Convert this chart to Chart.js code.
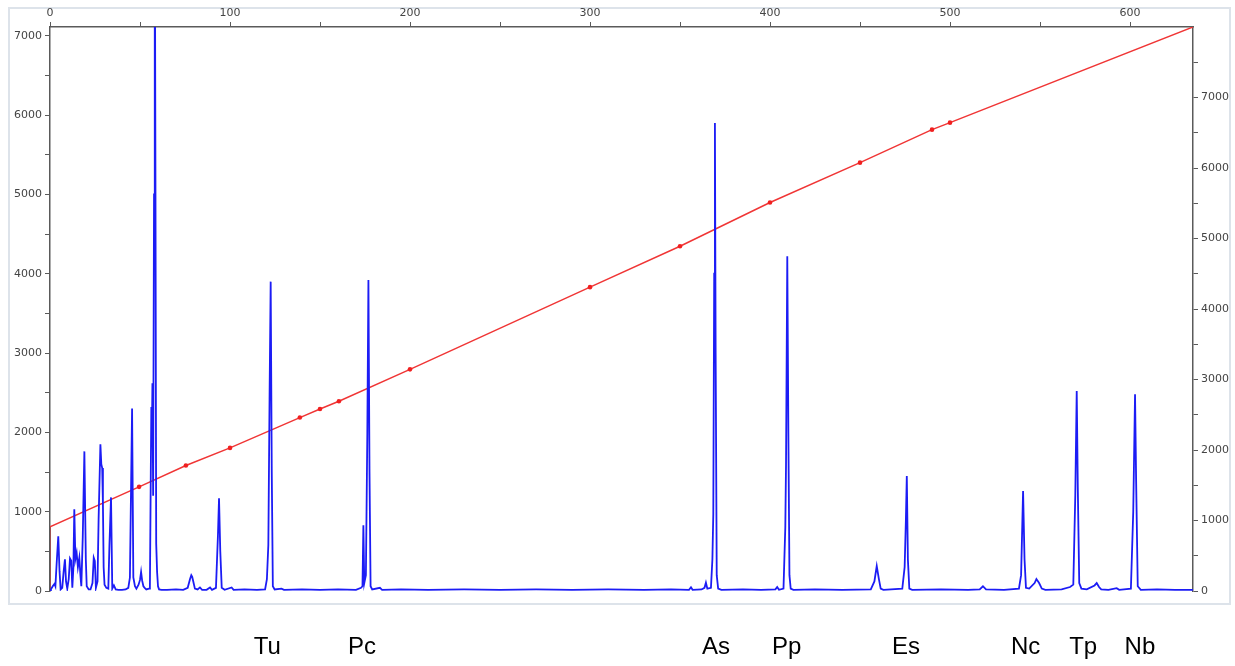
<!DOCTYPE html>
<html>
<head>
<meta charset="utf-8" />
<title>Chromatogram</title>
<script src="https://cdn.jsdelivr.net/npm/chart.js@4.4.0/dist/chart.umd.min.js"></script>
<style>
  body { margin: 0; background: #fff; }
  #wrap { width: 1235px; height: 666px; }
</style>
</head>
<body>
<div id="wrap"><canvas id="chart" width="1235" height="666"></canvas></div>
<script>
// retention time (top axis) and detector signal (left axis)
var traceTime = [
  0, 0.5, 1.5, 2.5, 3.0, 3.7, 4.6, 5.3, 5.9, 6.8, 7.6, 8.3, 8.9, 9.6, 10.4, 11.1, 11.8, 12.4,
  13.0, 13.5, 14.1, 14.8, 15.5, 16.3, 16.9, 17.4, 18.2, 19.1, 19.9, 20.4, 21.5, 22.5, 23.6, 24.3,
  24.9, 25.5, 26.4, 27.0, 28.0, 28.5, 29.0, 29.4, 29.8, 30.3, 31.3, 32.4, 33.0, 33.9, 34.6, 35.5,
  36.5, 38, 40, 42, 43.5, 44.4, 45.6, 46.3, 47.2, 48, 49.2, 50.0, 50.6, 51.2, 51.9, 52.6, 53.5,
  55.0, 55.5, 56.0, 56.3, 56.6, 56.9, 57.3, 57.8, 58.2, 58.6, 59.0, 59.5, 60.0, 60.6,
  62, 65, 70, 74, 76.5, 77.8, 78.5, 79.0, 79.6, 80.5, 82, 83.3, 84.5, 87, 88.9, 90,
  92.2, 93.3, 93.9, 94.6, 95.4, 97, 100.9, 102, 108, 115, 119.5, 120.5, 121.3, 122.0, 122.6,
  123.2, 123.8, 124.8, 128.6, 130, 140, 150, 160, 170, 172.8, 173.6, 174.1, 174.6, 175.5,
  176.3, 176.9, 177.5, 178.1, 179, 183.3, 184.5, 195, 210, 230, 250, 270, 290, 310, 330,
  345, 355, 356.1, 357, 362, 363.6, 364.4, 365.2, 367.2, 368.0, 368.5, 369.0, 369.4, 369.8,
  370.4, 371.2, 373, 385, 395, 403, 404, 405, 407.5, 408.5, 408.9, 409.6, 410.2, 410.8,
  411.5, 413, 425, 440, 456, 458, 459.3, 460.5, 461.5, 463, 473.5, 474.8, 475.5, 476.0,
  476.6, 477.4, 479, 495, 510, 516.5, 518.3, 520, 530, 538.3, 539.5, 540.6, 541.4, 542.2,
  544, 547, 548, 549.5, 551, 553, 562, 566.7, 568.5, 569.6, 570.4, 571.0, 571.8, 573,
  576, 580.3, 581.5, 582.8, 584, 588, 592.6, 594, 600.5, 601.8, 602.8, 603.4, 604.3, 606,
  615, 625, 635
];
var traceSignal = [
  0, 20, 60, 90, 60, 350, 690, 250, 20, 40, 250, 400, 120, 30, 150, 410, 380, 40,
  300, 1030, 400, 480, 300, 420, 200, 60, 680, 1760, 400, 60, 20, 20, 100, 420,
  380, 40, 120, 900, 1850, 1600, 1550, 1100, 300, 80, 40, 30, 560, 1180, 30, 70,
  20, 15, 15, 20, 40, 170, 2300, 170, 60, 30, 80, 140, 240, 130, 60, 40, 20,
  30, 40, 1500, 2320, 1950, 2620, 1200, 5000, 9000, 5000, 600, 240, 60, 20,
  15, 15, 20, 15, 40, 150, 200, 180, 120, 30, 20, 45, 15, 15, 45, 15,
  40, 700, 1170, 500, 40, 15, 45, 15, 20, 15, 20, 150, 580, 2500, 3900,
  1500, 60, 20, 30, 15, 20, 15, 20, 15, 40, 60, 830, 100, 200,
  2000, 3920, 1500, 60, 20, 40, 15, 20, 15, 20, 15, 20, 15, 20, 15,
  20, 15, 47, 15, 20, 40, 105, 30, 40, 400, 970, 4000, 5900, 3000,
  200, 30, 15, 20, 15, 20, 50, 15, 30, 800, 1590, 4220, 2000, 200,
  30, 15, 20, 15, 20, 120, 315, 150, 30, 15, 30, 300, 900, 1450,
  400, 30, 15, 20, 15, 20, 60, 20, 15, 30, 200, 1260, 400, 40,
  30, 100, 150, 100, 30, 15, 20, 50, 80, 1200, 2520, 1300, 100, 30,
  20, 70, 100, 50, 20, 15, 35, 15, 30, 1000, 2480, 1400, 60, 15,
  20, 15, 15
];

// calibration line (right axis)
var calibTime = [0, 0, 49.5, 75.5, 100, 138.8, 150, 160.5, 200, 300, 350, 400, 450, 490, 500, 635];
var calibValue = [0, 910, 1477, 1780, 2030, 2460, 2582, 2691, 3144, 4310, 4890, 5510, 6076, 6544, 6643, 8000];

// compound labels under the peaks
var peakNames = ['Tu', 'Pc', 'As', 'Pp', 'Es', 'Nc', 'Tp', 'Nb'];
var peakTimes = [120.7, 173.3, 370, 409.3, 475.5, 542, 574, 605.5];

var timeMax = 635;
var leftMax = 7110;
var rightMax = 8000;
var timeTicks = [0, 50, 100, 150, 200, 250, 300, 350, 400, 450, 500, 550, 600];
var leftTicks = [0, 500, 1000, 1500, 2000, 2500, 3000, 3500, 4000, 4500, 5000, 5500, 6000, 6500, 7000];
var rightTicks = [0, 500, 1000, 1500, 2000, 2500, 3000, 3500, 4000, 4500, 5000, 5500, 6000, 6500, 7000, 7500];

var trace = traceTime.map(function (t, i) { return { x: t, y: traceSignal[i] }; });
var calib = calibTime.map(function (t, i) { return { x: t, y: calibValue[i] }; });
var calibRadius = calibTime.map(function (t, i) { return (i < 2 || i === calibTime.length - 1) ? 0 : 2.3; });

var axisColor = '#5a5a5a';
var tickFont = { family: 'DejaVu Sans', size: 11 };

var framePlugin = {
  id: 'frame',
  beforeDraw: function (chart) {
    var c = chart.ctx;
    c.save();
    c.fillStyle = '#fff';
    c.fillRect(0, 0, chart.width, chart.height);
    c.strokeStyle = '#dde3ea';
    c.lineWidth = 2;
    c.strokeRect(9, 8, 1221, 596);
    c.restore();
  }
};

function setTicks(list) {
  return function (scale) {
    scale.ticks = list.map(function (v) { return { value: v }; });
  };
}

new Chart(document.getElementById('chart'), {
  type: 'line',
  data: {
    datasets: [
      {
        label: 'signal',
        data: trace,
        xAxisID: 'x',
        yAxisID: 'y',
        borderColor: '#1c1cf5',
        borderWidth: 1.8,
        pointRadius: 0,
        tension: 0
      },
      {
        label: 'index',
        data: calib,
        xAxisID: 'x',
        yAxisID: 'y2',
        borderColor: '#f03535',
        borderWidth: 1.5,
        pointRadius: calibRadius,
        pointBackgroundColor: '#f02020',
        pointBorderWidth: 0,
        tension: 0,
        segment: {
          borderColor: function (ctx) { return ctx.p0DataIndex === 0 ? '#993333' : undefined; }
        }
      }
    ]
  },
  options: {
    responsive: false,
    animation: false,
    parsing: false,
    layout: { padding: 0 },
    plugins: {
      legend: { display: false },
      tooltip: { enabled: false }
    },
    scales: {
      x: {
        type: 'linear',
        position: 'top',
        min: 0,
        max: timeMax,
        afterBuildTicks: setTicks(timeTicks),
        afterFit: function (s) { s.height = 27; },
        grid: { drawOnChartArea: false, tickLength: 5, color: axisColor, lineWidth: 1 },
        border: { color: axisColor, width: 1.5 },
        ticks: {
          padding: 2,
          maxRotation: 0,
          autoSkip: false,
          color: '#444',
          font: tickFont,
          callback: function (v) { return v % 100 === 0 ? String(v) : ''; }
        }
      },
      xb: {
        type: 'linear',
        position: 'bottom',
        display: true,
        min: 0,
        max: timeMax,
        afterBuildTicks: setTicks(peakTimes),
        afterFit: function (s) { s.height = 75; },
        grid: { display: false, drawTicks: false },
        border: { display: false },
        ticks: {
          padding: 42,
          maxRotation: 0,
          autoSkip: false,
          color: '#000',
          font: { family: 'Liberation Sans', size: 24 },
          callback: function (v, i) { return peakNames[i]; }
        }
      },
      y: {
        type: 'linear',
        position: 'left',
        min: 0,
        max: leftMax,
        afterBuildTicks: setTicks(leftTicks),
        afterFit: function (s) { s.width = 50; },
        grid: { drawOnChartArea: false, tickLength: 5, color: axisColor, lineWidth: 1 },
        border: { color: axisColor, width: 1.5 },
        ticks: {
          padding: 3,
          color: '#444',
          font: tickFont,
          callback: function (v) { return v % 1000 === 0 ? String(v) : ''; }
        }
      },
      y2: {
        type: 'linear',
        position: 'right',
        min: 0,
        max: rightMax,
        afterBuildTicks: setTicks(rightTicks),
        afterFit: function (s) { s.width = 42; },
        grid: { drawOnChartArea: false, tickLength: 5, color: axisColor, lineWidth: 1 },
        border: { color: axisColor, width: 1.5 },
        ticks: {
          padding: 3,
          color: '#444',
          font: tickFont,
          callback: function (v) { return v % 1000 === 0 ? String(v) : ''; }
        }
      }
    }
  },
  plugins: [framePlugin]
});
</script>
</body>
</html>
